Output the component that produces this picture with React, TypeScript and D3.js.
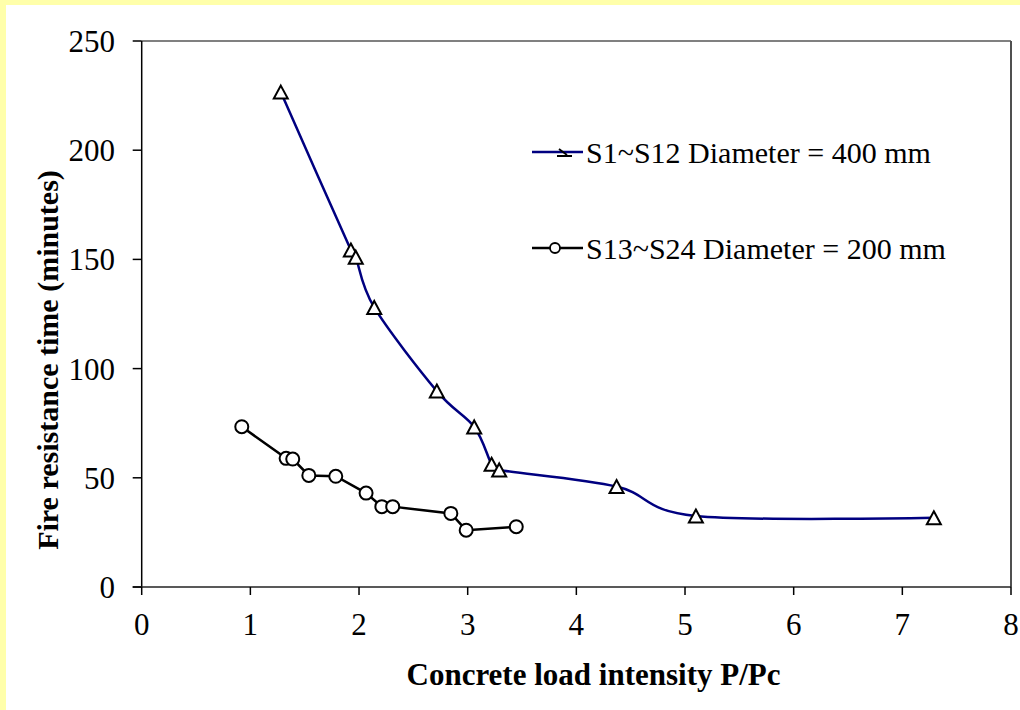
import React from "react";
import * as d3 from "d3";

const xTicks = [0, 1, 2, 3, 4, 5, 6, 7, 8];
const yTicks = [0, 50, 100, 150, 200, 250];

const s1X = [1.28, 1.925, 1.97, 2.14, 2.716, 3.06, 3.22, 3.29, 4.37, 5.1, 7.29];
const s1Y = [226.6, 154.3, 151, 128, 89.7, 73.3, 56.2, 53.6, 46, 32.5, 31.7];

const s2X = [0.921, 1.329, 1.39, 1.538, 1.786, 2.065, 2.21, 2.31, 2.845, 2.986, 3.447];
const s2Y = [73.4, 58.9, 58.6, 51.1, 50.7, 43.0, 36.8, 36.8, 33.7, 26.0, 27.6];

const series1Label = "S1~S12 Diameter = 400 mm";
const series2Label = "S13~S24 Diameter = 200 mm";
const xTitle = "Concrete load intensity P/Pc";
const yTitle = "Fire resistance time (minutes)";

const FONT = "'Liberation Serif', Tinos, 'Times New Roman', serif";
const txt = (size: number, bold = false): React.CSSProperties => ({
  fontFamily: FONT,
  fontSize: size + "px",
  fontWeight: bold ? 700 : 400,
  fontStyle: "normal",
});

export default function App() {
  const W = 1020, H = 710;
  const x0 = 141.7, x1 = 1011, yb = 587, yt = 41;
  const x = d3.scaleLinear().domain([0, 8]).range([x0, x1]);
  const y = d3.scaleLinear().domain([0, 250]).range([yb, yt]);

  const p1 = s1X.map((v, i) => [v, s1Y[i]] as [number, number]);
  const p2 = s2X.map((v, i) => [v, s2Y[i]] as [number, number]);

  const line1 = d3.line<[number, number]>().x(d => x(d[0])).y(d => y(d[1])).curve(d3.curveCardinal.tension(0));
  const line2 = d3.line<[number, number]>().x(d => x(d[0])).y(d => y(d[1]));

  const tri = (cx: number, cy: number) => `M${cx},${cy - 6.5}L${cx + 7},${cy + 6.5}L${cx - 7},${cy + 6.5}Z`;

  return (
    <svg width={W} height={H} style={{ position: "absolute", left: 0, top: 0, fontFamily: FONT }}>
      <rect x={0} y={0} width={W} height={H} fill="#FFFFAA" />
      <rect x={6} y={5} width={W - 6} height={H - 5} fill="#FFFFFF" />
      {/* plot frame */}
      <line x1={x0} x2={x1} y1={yt} y2={yt} stroke="#808080" strokeWidth={2} />
      <line x1={x1} x2={x1} y1={yt} y2={yb} stroke="#505050" strokeWidth={2} />
      {/* axes */}
      <line x1={x0} x2={x0} y1={yt} y2={yb} stroke="#000" strokeWidth={1.5} />
      <line x1={x0 - 9} x2={x1} y1={yb} y2={yb} stroke="#222" strokeWidth={1.5} />
      {yTicks.map(t => (
        <g key={"y" + t}>
          <line x1={x0 - 9} x2={x0} y1={y(t)} y2={y(t)} stroke="#000" strokeWidth={1.5} />
          <text x={115} y={y(t) + 11} textAnchor="end" style={txt(31)} fill="#000">{t}</text>
        </g>
      ))}
      {xTicks.map(t => (
        <g key={"x" + t}>
          <line x1={x(t)} x2={x(t)} y1={yb} y2={yb + 8} stroke="#000" strokeWidth={1.5} />
          <text x={x(t)} y={635} textAnchor="middle" style={txt(31)} fill="#000">{t}</text>
        </g>
      ))}
      <text x={593.5} y={685} textAnchor="middle" style={txt(31, true)} fill="#000">{xTitle}</text>
      <text transform="translate(58,360) rotate(-90)" textAnchor="middle" style={txt(30, true)} fill="#000">{yTitle}</text>

      {/* series */}
      <path d={line1(p1) || ""} fill="none" stroke="#000080" strokeWidth={2.5} />
      <path d={line2(p2) || ""} fill="none" stroke="#000" strokeWidth={2.5} />
      {p2.map((d, i) => (
        <circle key={"c" + i} cx={x(d[0])} cy={y(d[1])} r={6.5} fill="#fff" stroke="#000" strokeWidth={2} />
      ))}
      {p1.map((d, i) => (
        <path key={"t" + i} d={tri(x(d[0]), y(d[1]))} fill="#fff" stroke="#000" strokeWidth={2} />
      ))}

      {/* legend */}
      <line x1={532} x2={583} y1={152} y2={152} stroke="#000080" strokeWidth={2.5} />
      <path d="M559,149L567,155M557,156L572,156" stroke="#000" strokeWidth={1.8} fill="none" />
      <text x={586} y={163} style={txt(30)} fill="#000">{series1Label}</text>
      <line x1={532} x2={583} y1={248} y2={248} stroke="#000" strokeWidth={2.5} />
      <circle cx={555} cy={248} r={5} fill="#fff" stroke="#000" strokeWidth={1.8} />
      <text x={586} y={259} style={txt(30)} fill="#000">{series2Label}</text>
    </svg>
  );
}
